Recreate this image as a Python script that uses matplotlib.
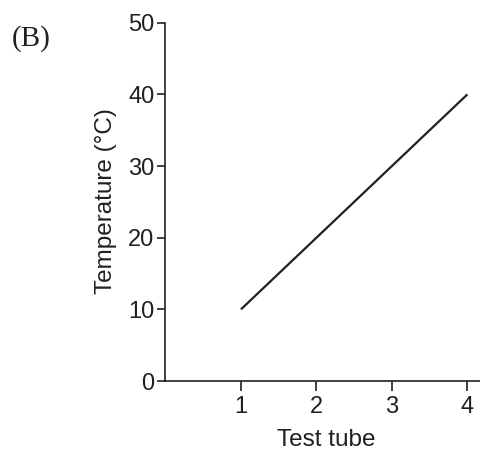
import matplotlib.pyplot as plt

# Data
test_tube = [1, 2, 3, 4]
temperature = [10, 20, 30, 40]
x_ticks = [1, 2, 3, 4]
y_ticks = [0, 10, 20, 30, 40, 50]

INK = "#231f20"

plt.rcParams["font.family"] = ["Liberation Sans", "DejaVu Sans"]

fig = plt.figure(figsize=(4.81, 4.55), dpi=100)
ax = fig.add_axes([165.5 / 481, 74 / 455, 1 - 165.5 / 481, (381 - 22.7) / 455])

ax.plot(test_tube, temperature, color=INK, linewidth=1.6, solid_capstyle="butt")

ax.set_xlim(0, 4.18)
ax.set_ylim(0, 50)
ax.set_xticks(x_ticks)
ax.set_yticks(y_ticks)

for side in ("top", "right"):
    ax.spines[side].set_visible(False)
for side in ("left", "bottom"):
    ax.spines[side].set_color(INK)
    ax.spines[side].set_linewidth(1.2)

ax.tick_params(axis="both", colors=INK, labelcolor=INK, width=1.2, labelsize=17)
ax.tick_params(axis="x", length=7, pad=4)
ax.tick_params(axis="y", length=6, pad=2)

ax.set_xlabel("Test tube", fontsize=17.5, color=INK, va="center")
ax.set_ylabel("Temperature (°C)", fontsize=17.5, color=INK)
ax.xaxis.set_label_coords(0.509, -0.165)
ax.yaxis.set_label_coords(-0.154, 0.502)

fig.text(12 / 481, 1 - 39 / 455, "(B)", family="Liberation Serif", fontsize=21,
         color=INK, va="center", ha="left")

fig.savefig("out.png", dpi=100)
